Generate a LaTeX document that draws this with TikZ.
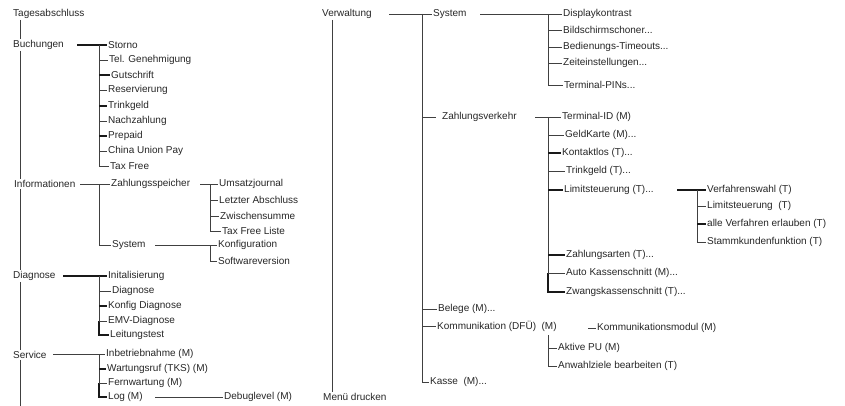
\documentclass[tikz,border=0pt]{standalone}
\usepackage{fontspec}
\setmainfont{Liberation Sans}
\usetikzlibrary{calc,positioning}
\tikzset{
	entry/.style={anchor=west, inner xsep=1pt, inner ysep=1pt, text=black!85,
		font=\fontsize{10}{12}\selectfont},
	stem/.style={draw=black!75, line width=0.7pt},
	boldstem/.style={draw=black!90, line width=1.5pt},
}
\begin{document}
\begin{tikzpicture}[x=1pt,y=-1pt]
	\useasboundingbox (0,0) rectangle (845,406);
	% linke Spalte
	\node[entry] (tag) at (12,14) {Tagesabschluss};
	\node[entry] (buch) at (12,45) {Buchungen};
	\node[entry] (info) at (13,184) {Informationen};
	\node[entry] (diag) at (12,276) {Diagnose};
	\node[entry] (serv) at (12,355) {Service};
	\coordinate (lt) at (20,0);
	\coordinate (lend) at (20,406);
	\draw[stem] (lt |- tag.south) -- (lt |- buch.north);
	\draw[stem] (lt |- buch.south) -- (lt |- info.north);
	\draw[stem] (lt |- info.south) -- (lt |- diag.north);
	\draw[stem] (lt |- diag.south) -- (lt |- serv.north);
	\draw[stem] (lt |- serv.south) -- (lend);

	\node[entry] (storno) at (107,45) {Storno};
	\node[entry] (telgen) at (108,60) {Tel. Genehmigung};
	\node[entry] (gut) at (110,75) {Gutschrift};
	\node[entry] (res) at (107,90) {Reservierung};
	\node[entry] (trink) at (107,106) {Trinkgeld};
	\node[entry] (nach) at (107,121) {Nachzahlung};
	\node[entry] (prep) at (107,136) {Prepaid};
	\node[entry] (china) at (107,151) {China Union Pay};
	\node[entry] (taxf) at (109,166) {Tax Free};
	\coordinate (bus) at (77,45);
	\coordinate (buv) at (99,45);
	\draw[boldstem] (bus) -- (storno.west);
	\draw[stem] (buv) |- (taxf.west);
	\foreach \n in {telgen,res,nach,china}
		\draw[stem] (buv |- \n.west) -- (\n.west);
	\foreach \n in {gut,trink,prep}
		\draw[boldstem] (buv |- \n.west) -- (\n.west);

	\node[entry] (zsp) at (110,184) {Zahlungsspeicher};
	\node[entry] (sysi) at (111,245) {System};
	\coordinate (ins) at (80,184);
	\coordinate (inv) at (99,184);
	\draw[stem] (ins) -- (zsp.west);
	\draw[stem] (inv) |- (sysi.west);

	\node[entry] (umsatz) at (218,184) {Umsatzjournal};
	\node[entry] (letzt) at (218,200) {Letzter Abschluss};
	\node[entry] (zwsum) at (219,216) {Zwischensumme};
	\node[entry] (taxl) at (221,231) {Tax Free Liste};
	\coordinate (zss) at (200,184);
	\coordinate (zsv) at (210,184);
	\draw[stem] (zss) -- (umsatz.west);
	\draw[stem] (zsv) |- (taxl.west);
	\foreach \n in {letzt,zwsum}
		\draw[stem] (zsv |- \n.west) -- (\n.west);

	\node[entry] (konf) at (217,245) {Konfiguration};
	\node[entry] (softw) at (217,261) {Softwareversion};
	\coordinate (sis) at (155,245);
	\coordinate (siv) at (210,245);
	\draw[stem] (sis) -- (konf.west);
	\draw[stem] (siv) |- (softw.west);

	\node[entry] (init) at (107,276) {Initalisierung};
	\node[entry] (diagc) at (111,291) {Diagnose};
	\node[entry] (konfd) at (107,306) {Konfig Diagnose};
	\node[entry] (emv) at (107,321) {EMV-Diagnose};
	\node[entry] (leit) at (109,335) {Leitungstest};
	\coordinate (dis) at (63,276);
	\coordinate (div) at (99,276);
	\draw[boldstem] (dis) -- (init.west);
	\draw[boldstem] (div |- emv.west) |- (leit.west);
	\draw[stem] (div) -- (div |- emv.west);
	\draw[boldstem] (div |- konfd.west) -- (konfd.west);
	\foreach \n in {diagc,emv}
		\draw[stem] (div |- \n.west) -- (\n.west);

	\node[entry] (inbet) at (105,354) {Inbetriebnahme (M)};
	\node[entry] (wart) at (106,369) {Wartungsruf (TKS) (M)};
	\node[entry] (fern) at (107,383) {Fernwartung (M)};
	\node[entry] (logm) at (107,397) {Log (M)};
	\node[entry] (debug) at (223,397) {Debuglevel (M)};
	\coordinate (ses) at (53,354);
	\coordinate (sev) at (99,354);
	\draw[stem] (ses) -- (inbet.west);
	\draw[stem] (sev) -- (sev |- fern.west);
	\draw[boldstem] (sev |- fern.west) |- (logm.west);
	\draw[boldstem] (sev |- wart.west) -- (wart.west);
	\draw[stem] (sev |- fern.west) -- (fern.west);
	\coordinate (lgs) at (155,397);
	\draw[stem] (lgs) -- (debug.west);

	% rechte Spalte
	\node[entry] (verw) at (321,14) {Verwaltung};
	\node[entry] (menu) at (322,397) {Menü drucken};
	\coordinate (rt) at (332,0);
	\draw[stem] (rt |- verw.south) -- (rt |- menu.north);

	\node[entry] (sysv) at (432,14) {System};
	\node[entry] (zv) at (441,117) {Zahlungsverkehr};
	\node[entry] (beleg) at (437,309) {Belege (M)...};
	\node[entry] (komm) at (436,326) {Kommunikation (DFÜ)\ \ (M)};
	\node[entry] (kasse) at (429,382) {Kasse\ \ (M)...};
	\coordinate (vws) at (389,14);
	\coordinate (vwv) at (422,14);
	\draw[stem] (vws) -- (sysv.west);
	\draw[stem] (vwv) |- (kasse.west);
	\foreach \n in {beleg,komm}
		\draw[stem] (vwv |- \n.west) -- (\n.west);
	\draw[stem] (vwv |- zv.west) -- ([xshift=-5pt]zv.west);

	\node[entry] (disp) at (562,14) {Displaykontrast};
	\node[entry] (bild) at (562,30) {Bildschirmschoner...};
	\node[entry] (bedien) at (562,47) {Bedienungs-Timeouts...};
	\node[entry] (zeit) at (562,63) {Zeiteinstellungen...};
	\node[entry] (tpin) at (563,85) {Terminal-PINs...};
	\coordinate (svs) at (480,14);
	\coordinate (svv) at (548,14);
	\draw[stem] (svs) -- (disp.west);
	\draw[stem] (svv) |- (tpin.west);
	\foreach \n in {bild,bedien,zeit}
		\draw[stem] (svv |- \n.west) -- (\n.west);

	\node[entry] (tid) at (561,117) {Terminal-ID (M)};
	\node[entry] (geld) at (564,135) {GeldKarte (M)...};
	\node[entry] (kontakt) at (561,153) {Kontaktlos (T)...};
	\node[entry] (trinkt) at (565,171) {Trinkgeld (T)...};
	\node[entry] (limit) at (563,190) {Limitsteuerung (T)...};
	\node[entry] (zarten) at (565,255) {Zahlungsarten (T)...};
	\node[entry] (auto) at (565,273) {Auto Kassenschnitt (M)...};
	\node[entry] (zwang) at (565,292) {Zwangskassenschnitt (T)...};
	\coordinate (zvs) at (535,117);
	\coordinate (zvv) at (548,117);
	\draw[stem] (zvs) -- (tid.west);
	\draw[stem] (zvv) -- (zvv |- auto.west);
	\draw[boldstem] (zvv |- auto.west) |- (zwang.west);
	\foreach \n in {geld,trinkt,auto}
		\draw[stem] (zvv |- \n.west) -- (\n.west);
	\foreach \n in {kontakt,limit,zarten}
		\draw[boldstem] (zvv |- \n.west) -- (\n.west);

	\node[entry] (verf) at (706,190) {Verfahrenswahl (T)};
	\node[entry] (limt) at (706,206) {Limitsteuerung\ \ (T)};
	\node[entry] (alle) at (706,224) {alle Verfahren erlauben (T)};
	\node[entry] (stamm) at (706,242) {Stammkundenfunktion (T)};
	\coordinate (lis) at (677,190);
	\coordinate (liv) at (697,190);
	\draw[boldstem] (lis) -- (verf.west);
	\draw[stem] (liv) |- (stamm.west);
	\draw[stem] (liv |- limt.west) -- (limt.west);
	\draw[boldstem] (liv |- alle.west) -- (alle.west);

	\node[entry] (kmod) at (596,328) {Kommunikationsmodul (M)};
	\node[entry] (aktiv) at (557,348) {Aktive PU (M)};
	\node[entry] (anwahl) at (557,366) {Anwahlziele bearbeiten (T)};
	\coordinate (kos) at (588,328);
	\coordinate (kov) at (548,335);
	\draw[stem] (kos) -- (kmod.west);
	\draw[stem] (kov) |- (anwahl.west);
	\draw[stem] (kov |- aktiv.west) -- (aktiv.west);
\end{tikzpicture}
\end{document}
